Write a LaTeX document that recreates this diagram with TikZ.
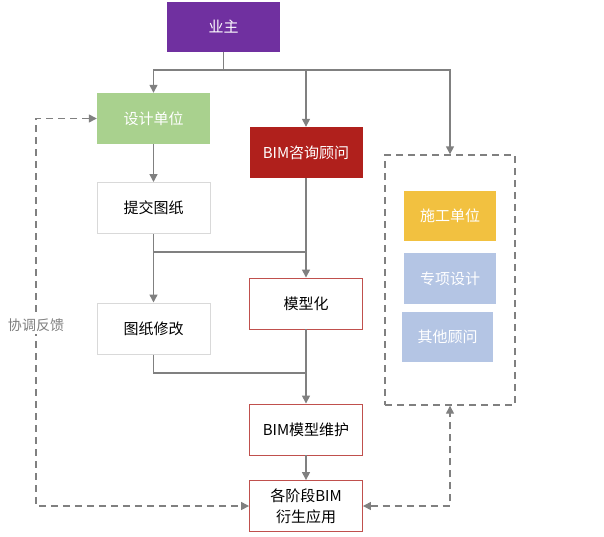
\documentclass[tikz,border=0pt]{standalone}
\usepackage{fontspec}
\setmainfont{Noto Sans CJK SC}
\usetikzlibrary{arrows.meta,positioning}
\definecolor{Owner}{HTML}{7030A0}
\definecolor{Design}{HTML}{A9D18E}
\definecolor{Consult}{HTML}{B0201C}
\definecolor{Build}{HTML}{F2C140}
\definecolor{Other}{HTML}{B4C5E4}
\definecolor{Frame}{HTML}{C0504D}
\definecolor{Pale}{HTML}{D9D9D9}
\definecolor{Wire}{HTML}{808080}
\tikzset{
  box/.style={minimum width=113pt, minimum height=51pt, inner sep=2pt, align=center, font=\fontsize{15}{21}\selectfont},
  solidbox/.style={box, fill=#1, text=white},
  greybox/.style={box, draw=Pale, line width=1pt},
  redbox/.style={box, draw=Frame, line width=0.9pt},
  wire/.style={draw=Wire, line width=1.4pt},
  flow/.style={wire, -{Triangle[length=8pt,width=8pt]}},
  fb/.style={draw=Wire, line width=1.4pt, dash pattern=on 7pt off 5pt, {Triangle[length=8pt,width=8pt]}-{Triangle[length=8pt,width=8pt]}}
}
\begin{document}
\begin{tikzpicture}[x=1pt, y=-1pt]
    \useasboundingbox (0,0) rectangle (604,536);
    \node[solidbox=Owner, minimum height=50pt] (owner) at (223.5,27) {业主};
    \node[solidbox=Design] (design) at (153.5,118.5) {设计单位};
    \node[solidbox=Consult] (consult) at (306,152.5) {BIM咨询顾问};
    \node[greybox] (submit) at (153.5,208) {提交图纸};
    \node[redbox] (modeling) at (306,303.5) {模型化};
    \node[greybox] (revise) at (153.5,328.5) {图纸修改};
    \node[redbox] (maintain) at (306,429.5) {BIM模型维护};
    \node[redbox] (apply) at (306,506) {各阶段BIM\\衍生应用};
    % participants on the right
    \node[draw=Wire, line width=1.4pt, dash pattern=on 7pt off 5pt, minimum width=130pt, minimum height=250pt] (group) at (450,280) {};
    \node[solidbox=Build, minimum width=92pt, minimum height=50pt] (build) at (450,216) {施工单位};
    \node[solidbox=Other, minimum width=92pt, minimum height=51pt] (special) at (450,278.5) {专项设计};
    \node[solidbox=Other, minimum width=91pt, minimum height=50pt] (otherc) at (447.5,337) {其他顾问};

    \coordinate (split) at (223.5,70);
    \draw[wire] (owner.south) -- (split);
    \draw[flow] (split) -| (design.north);
    \draw[flow] (split) -| (consult.north);
    \draw[flow] (split) -| (group.north);

    \draw[flow] (design) -- (submit);
    \draw[flow] (submit) -- (revise);
    \draw[wire] (submit.south) |- (306,252);
    \draw[flow] (consult) -- (modeling);
    \draw[wire] (revise.south) |- (306,373);
    \draw[flow] (modeling) -- (maintain);
    \draw[flow] (maintain) -- (apply);

    % feedback loops
    \draw[fb] (design.west) -- ++(-61,0) |- (apply.west);
    \draw[fb] (apply.east) -| (group.south);
    \node[fill=white, text=Wire, inner xsep=1pt, inner ysep=3pt, font=\fontsize{14}{16}\selectfont] (note) at (36,325) {协调反馈};
\end{tikzpicture}
\end{document}
